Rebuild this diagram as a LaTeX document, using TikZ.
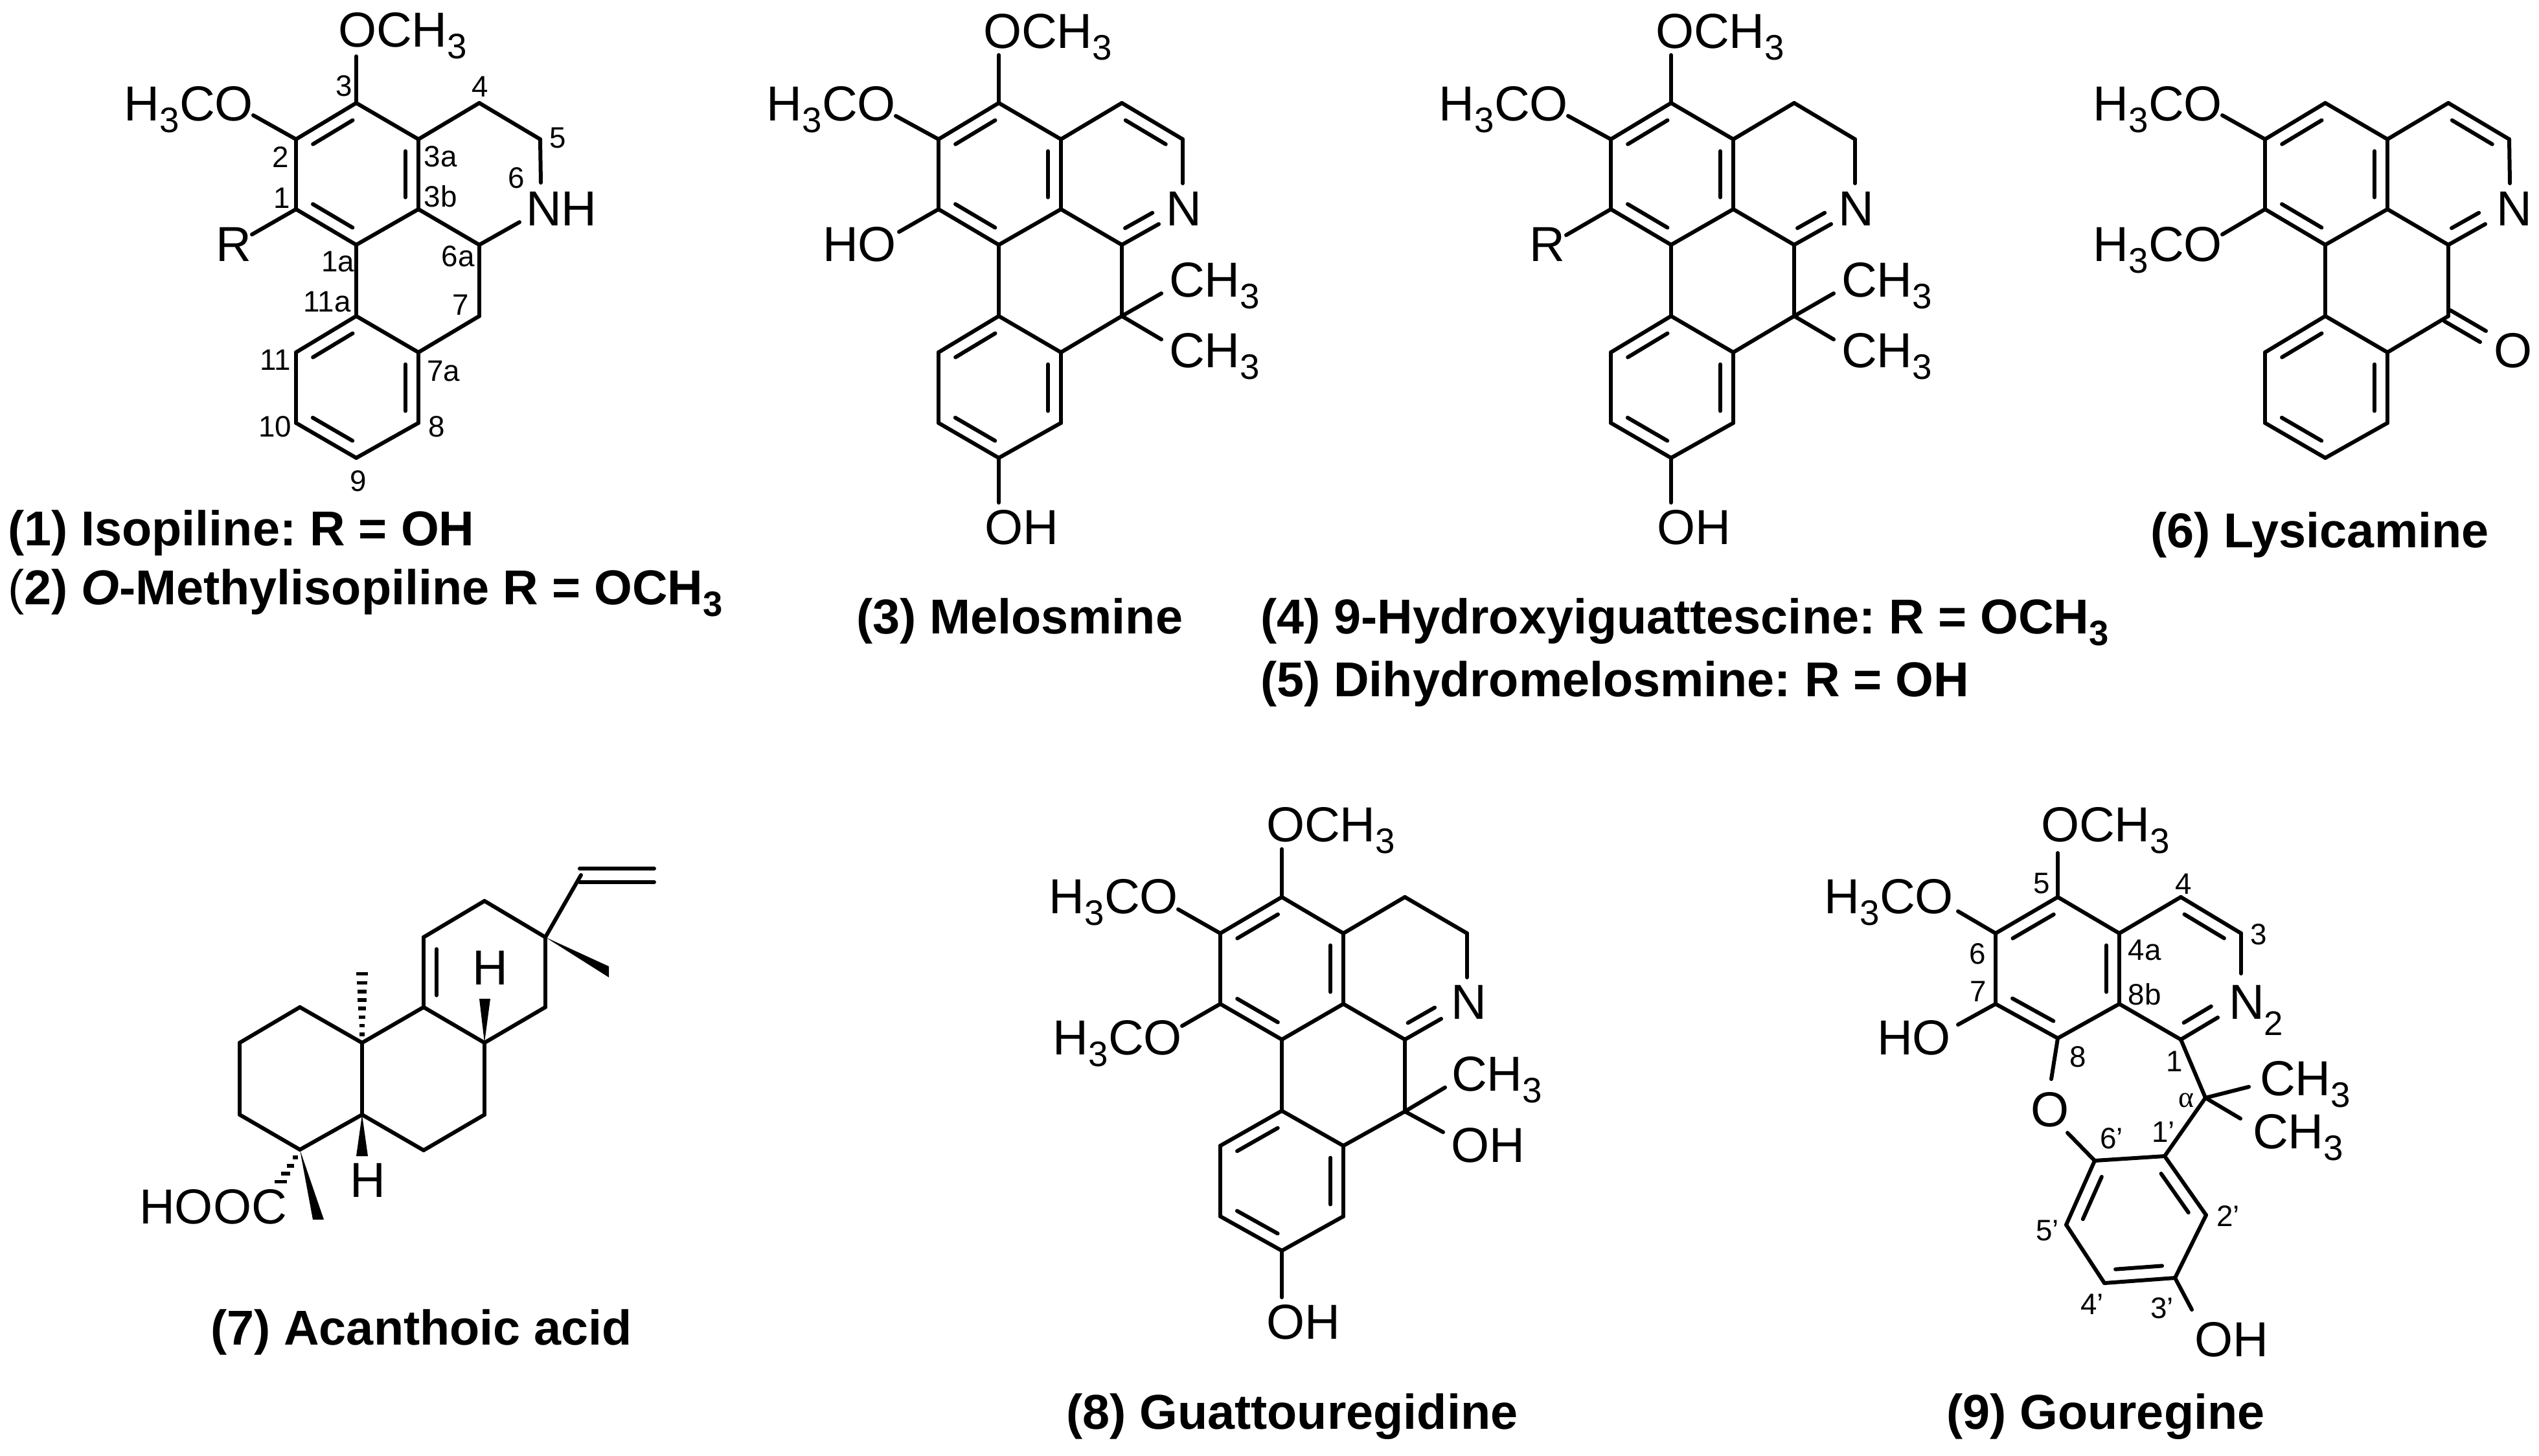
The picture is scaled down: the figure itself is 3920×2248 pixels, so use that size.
\documentclass[tikz,border=0pt]{standalone}
\usepackage{fontspec}
\setmainfont{Liberation Sans}
\newfontfamily\greekserif{Liberation Serif}
\usetikzlibrary{calc}
\frenchspacing
\newcommand\sbs[1]{\raisebox{-0.24em}{\scalebox{0.72}{#1}}}
\newcommand\defcoords[2]{\foreach \n/\x/\y in {#2}{\coordinate (#1\n) at (\x,\y);}}
\newcommand\bonds[2]{\foreach \a/\b in {#2}{\draw[bond] (#1\a) -- (#1\b);}}
% inner line of a double bond; A to B runs counter-clockwise round the ring
\newcommand\dbls[2]{\foreach \a/\b in {#2}{\draw[bond] ($(#1\a)!0.17!(#1\b)!0.2cm!90:(#1\b)$) -- ($(#1\b)!0.17!(#1\a)!0.2cm!-90:(#1\a)$);}}
\newcommand\imine[2]{\draw[bond] ($(#1)!0.26!(#2)!0.2cm!90:(#2)$) -- ($(#2)!0.2cm!-90:(#1)$);}
\newcommand\skeleton[2]{\foreach \n/\x/\y in {C3/1542/159,C2/1449/215,C1/1449/323,C1a/1542/378,C3b/1638/323,C3a/1638/215,C4/1732/159,C5/1826/215,C6a/1732/378,C7/1732/488,C7a/1638/544,C11a/1542/488,C11/1449/544,C10/1449/653,C9/1542/707,C8/1638/653}{\coordinate (#1\n) at ({\x+#2},\y);}}
\newcommand\skelbonds[1]{\bonds{#1}{C3/C2,C2/C1,C1/C1a,C1a/C3b,C3b/C3a,C3a/C3,C3a/C4,C4/C5,C3b/C6a,C1a/C11a,C11a/C11,C11/C10,C10/C9,C9/C8,C8/C7a,C7a/C11a,C7a/C7,C7/C6a}\dbls{#1}{C3/C2,C1/C1a,C3b/C3a,C11a/C11,C10/C9,C8/C7a}}
\tikzset{
  bond/.style={line width=0.06cm,line cap=round,line join=round,black},
  lab/.style={inner sep=0pt,outer sep=0pt,font=\fontsize{21.6}{24}\selectfont},
  num/.style={inner sep=0pt,outer sep=0pt,anchor=base,font=\fontsize{13}{15}\selectfont},
  capt/.style={inner sep=0pt,outer sep=0pt,anchor=base west,font=\fontsize{21.5}{24}\selectfont\bfseries},
  lw/.style={lab,anchor=base west},
  le/.style={lab,anchor=base east}
}
\begin{document}
\begin{tikzpicture}[x=0.01cm,y=-0.01cm]
\useasboundingbox[fill=white] (0,0) rectangle (3920,2248);

% ---------- (1)/(2) ----------
\skeleton{a}{-992}
\skelbonds{a}
\defcoords{a}{Me/550/87,Oa/391/178,Ra/389/362,Nc/835/282,Nb/802/343}
\bonds{a}{C3/Me,C2/Oa,C1/Ra,C5/Nc,C6a/Nb}
\node[lw] (aome) at (522,72) {OCH\sbs{3}};
\node[le] (aoa) at (391,186) {H\sbs{3}CO};
\node[le] (ar) at (388,403) {R};
\node[lw] (anh) at (812,348) {NH};
\node[num] (an3) at (531,148) {3};
\node[num] (an2) at (433,258) {2};
\node[num] (an1) at (435,321) {1};
\node[num] (an4) at (741,149) {4};
\node[num] (an5) at (861,228) {5};
\node[num] (an6) at (797,290) {6};
\node[num] (an3a) at (680,257) {3a};
\node[num] (an3b) at (680,319) {3b};
\node[num] (an1a) at (522,419) {1a};
\node[num] (an6a) at (707,411) {6a};
\node[num] (an7) at (711,486) {7};
\node[num] (an11a) at (505,481) {11a};
\node[num] (an11) at (425,571) {11};
\node[num] (an7a) at (685,588) {7a};
\node[num] (an10) at (425,674) {10};
\node[num] (an8) at (674,674) {8};
\node[num] (an9) at (553,758) {9};
\node[capt] (cap1) at (12,842) {(1) Isopiline: R = OH};
\node[capt] (cap2) at (12,933) {{\mdseries(}2) \textit{O}-Methylisopiline R = OCH\sbs{3}};

% ---------- (3) ----------
\skeleton{b}{0}
\skelbonds{b}
\defcoords{b}{Me/1542/85,Oa/1383/179,Hb/1388/358,Nc/1826/283,Nb/1789/346,Ma/1793/453,Mb/1793/524,Oh/1542/776}
\bonds{b}{C3/Me,C2/Oa,C1/Hb,C5/Nc,C6a/Nb,C7/Ma,C7/Mb,C9/Oh}
\dbls{b}{C5/C4}
\imine{bC6a}{bNb}
\node[lw] (bome) at (1518,74) {OCH\sbs{3}};
\node[le] (boa) at (1383,186) {H\sbs{3}CO};
\node[le] (bho) at (1384,403) {HO};
\node[lw] (bn) at (1800,348) {N};
\node[lw] (bma) at (1805,458) {CH\sbs{3}};
\node[lw] (bmb) at (1805,567) {CH\sbs{3}};
\node[lw] (boh) at (1520,840) {OH};
\node[capt] (cap3) at (1322,978) {(3) Melosmine};

% ---------- (4)/(5) ----------
\skeleton{c}{1038}
\skelbonds{c}
\defcoords{c}{Me/2580/85,Oa/2421/179,Ra/2418/363,Nc/2864/283,Nb/2827/346,Ma/2831/453,Mb/2831/524,Oh/2580/776}
\bonds{c}{C3/Me,C2/Oa,C1/Ra,C5/Nc,C6a/Nb,C7/Ma,C7/Mb,C9/Oh}
\imine{cC6a}{cNb}
\node[lw] (come) at (2556,74) {OCH\sbs{3}};
\node[le] (coa) at (2421,186) {H\sbs{3}CO};
\node[le] (cr) at (2416,403) {R};
\node[lw] (cn) at (2838,348) {N};
\node[lw] (cma) at (2843,458) {CH\sbs{3}};
\node[lw] (cmb) at (2843,567) {CH\sbs{3}};
\node[lw] (coh) at (2558,840) {OH};
\node[capt] (cap4) at (1946,978) {(4) 9-Hydroxyiguattescine: R = OCH\sbs{3}};
\node[capt] (cap5) at (1946,1075) {(5) Dihydromelosmine: R = OH};

% ---------- (6) ----------
\skeleton{d}{2048}
\skelbonds{d}
\defcoords{d}{Oa/3431/178,Ob/3431/362,Nc/3875/283,Nb/3837/346,Ka/3783/479,Kb/3838/511,Kc/3774/496,Kd/3829/528}
\bonds{d}{C2/Oa,C1/Ob,C5/Nc,C6a/Nb,Ka/Kb,Kc/Kd}
\dbls{d}{C5/C4}
\imine{dC6a}{dNb}
\node[le] (doa) at (3431,186) {H\sbs{3}CO};
\node[le] (dob) at (3431,403) {H\sbs{3}CO};
\node[lw] (dn) at (3854,348) {N};
\node[lw] (do) at (3850,567) {O};
\node[capt] (cap6) at (3320,845) {(6) Lysicamine};

% ---------- (7) ----------
\defcoords{e}{a/463/1555,b/370/1610,c/370/1721,d/463/1775,e/559/1721,f/559/1610,g/654/1555,h/748/1610,i/748/1721,j/654/1776,k/654/1447,l/748/1391,m/842/1447,n/842/1555,v/897/1351,va/895/1341,vb/1010/1341,vc/895/1362,vd/1010/1362,wa/940/1492,wb/940/1509,xa/740/1542,xb/757/1542,ya/550/1785,yb/568/1785,za/483/1883,zb/500/1883,ft/559/1500,dt/430/1830}
\bonds{e}{a/b,b/c,c/d,d/e,e/f,f/a,f/g,g/h,h/i,i/j,j/e,g/k,k/l,l/m,m/n,n/h,m/v,va/vb,vc/vd}
\dbls{e}{k/g}
\fill (em) -- (ewa) -- (ewb) -- cycle;
\fill (eh) -- (exa) -- (exb) -- cycle;
\fill (ee) -- (eya) -- (eyb) -- cycle;
\fill (ed) -- (eza) -- (ezb) -- cycle;
\foreach \t in {0.12,0.24,0.36,0.48,0.60,0.72,0.84,0.97}{
  \draw[line width=0.055cm,black] ($(ef)!\t!(eft)+({-3-6*\t},0)$) -- ($(ef)!\t!(eft)+({3+6*\t},0)$);}
\foreach \t in {0.22,0.45,0.67,0.9}{
  \draw[line width=0.055cm,black] ($(ed)!\t!(edt)+({-2-8*\t},0)$) -- ($(ed)!\t!(edt)+({2+8*\t},0)$);}
\node[lw] (eh1) at (729,1520) {H};
\node[lw] (eh2) at (540,1848) {H};
\node[le] (ecooh) at (443,1889) {HOOC};
\node[capt] (cap7) at (325,2076) {(7) Acanthoic acid};

% ---------- (8) ----------
\defcoords{f}{C3/1979/1385,C2/1884/1441,C1/1884/1550,C1a/1979/1605,C3b/2074/1550,C3a/2074/1441,C4/2169/1385,C5/2265/1441,C6a/2169/1605,C7/2169/1716,C7a/2074/1769,C11a/1979/1715,C11/1884/1769,C10/1884/1878,C9/1979/1931,C8/2074/1878,Me/1979/1311,Oa/1819/1404,Ob/1825/1584,Nc/2265/1509,Nb/2225/1573,Ma/2231/1679,Mb/2228/1748,Oh/1979/2003}
\skelbonds{f}
\bonds{f}{C3/Me,C2/Oa,C1/Ob,C5/Nc,C6a/Nb,C7/Ma,C7/Mb,C9/Oh}
\imine{fC6a}{fNb}
\node[lw] (fome) at (1955,1299) {OCH\sbs{3}};
\node[le] (foa) at (1819,1410) {H\sbs{3}CO};
\node[le] (fob) at (1825,1628) {H\sbs{3}CO};
\node[lw] (fn) at (2240,1573) {N};
\node[lw] (fma) at (2241,1684) {CH\sbs{3}};
\node[lw] (foh) at (2240,1794) {OH};
\node[lw] (fohb) at (1955,2067) {OH};
\node[capt] (cap8) at (1646,2206) {(8) Guattouregidine};

% ---------- (9) ----------
\defcoords{g}{C5/3177/1385,C6/3081/1441,C7/3081/1550,C8/3177/1603,C8b/3272/1550,C4a/3272/1441,C4/3367/1385,C3/3460/1441,C1/3367/1605,Ca/3405/1695,P1/3342/1785,P6/3234/1792,P5/3190/1891,P4/3249/1981,P3/3358/1973,P2/3406/1876,Oo/3167/1666,Op/3192/1749,Oh/3384/2022,Ma/3472/1678,Mb/3459/1727,Me/3177/1317,Oa/3023/1407,Hb/3023/1582,Nc/3460/1503,Nb/3424/1571}
\bonds{g}{C5/C6,C6/C7,C7/C8,C8/C8b,C8b/C4a,C4a/C5,C4a/C4,C4/C3,C3/Nc,C8b/C1,C1/Nb,C1/Ca,Ca/Ma,Ca/Mb,Ca/P1,P1/P6,P6/P5,P5/P4,P4/P3,P3/P2,P2/P1,C8/Oo,Op/P6,P3/Oh,C5/Me,C6/Oa,C7/Hb}
\dbls{g}{C5/C6,C7/C8,C8b/C4a,C3/C4,P6/P5,P4/P3,P2/P1}
\imine{gC1}{gNb}
\node[lw] (gome) at (3151,1299) {OCH\sbs{3}};
\node[le] (goa) at (3016,1410) {H\sbs{3}CO};
\node[le] (gho) at (3012,1628) {HO};
\node[lw] (gn) at (3441,1573) {N};
\node[lab,anchor=base,font=\fontsize{15}{17}\selectfont] (gn2) at (3510,1598) {2};
\node[lw] (go) at (3135,1739) {O};
\node[lw] (gma) at (3489,1691) {CH\sbs{3}};
\node[lw] (gmb) at (3478,1773) {CH\sbs{3}};
\node[lw] (goh) at (3388,2094) {OH};
\node[num] (gl5) at (3152,1379) {5};
\node[num] (gl4) at (3371,1380) {4};
\node[num] (gl3) at (3487,1458) {3};
\node[num] (gl6) at (3053,1488) {6};
\node[num] (gl7) at (3054,1546) {7};
\node[num] (gl4a) at (3311,1482) {4a};
\node[num] (gl8b) at (3311,1551) {8b};
\node[num] (gl8) at (3208,1647) {8};
\node[num] (gl1) at (3357,1654) {1};
\node[num,font=\fontsize{13}{15}\selectfont\greekserif] (glal) at (3375,1709) {α};
\node[num] (gp1) at (3340,1763) {1'};
\node[num] (gp6) at (3260,1773) {6'};
\node[num] (gp2) at (3440,1893) {2'};
\node[num] (gp5) at (3161,1915) {5'};
\node[num] (gp4) at (3230,2029) {4'};
\node[num] (gp3) at (3338,2035) {3'};
\node[capt] (cap9) at (3005,2206) {(9) Gouregine};
\end{tikzpicture}
\end{document}
